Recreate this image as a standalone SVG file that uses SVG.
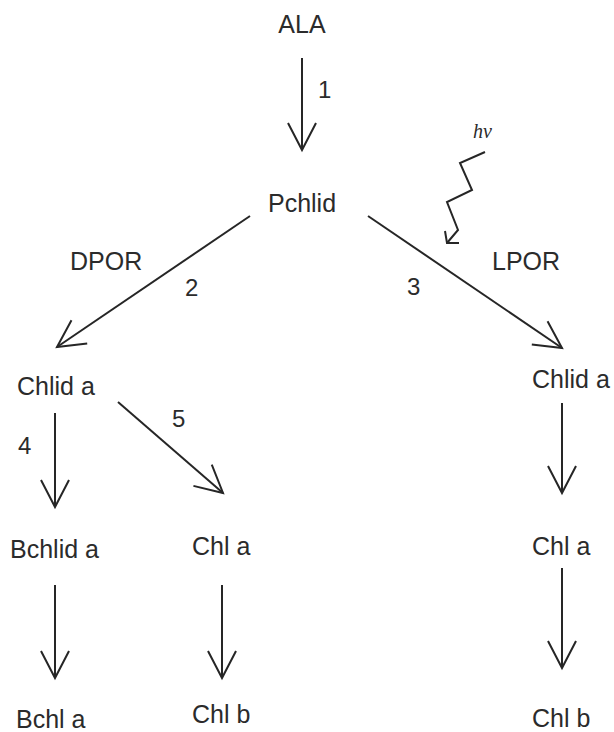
<svg xmlns="http://www.w3.org/2000/svg" width="614" height="732" viewBox="0 0 614 732">
  <defs>
    <style>
      .lbl { font-family: "Liberation Sans", Arial, sans-serif; font-size: 25px; fill: #2b2b2b; }
      .num { font-family: "Liberation Sans", Arial, sans-serif; font-size: 24px; fill: #2b2b2b; }
      .hv { font-family: "Liberation Serif", "Times New Roman", serif; font-size: 20px; font-style: italic; fill: #2b2b2b; }
      .edge { fill: none; stroke: #262626; stroke-width: 2; marker-end: url(#vhead); }
      .wave { fill: none; stroke: #262626; stroke-width: 2; stroke-linejoin: miter; }
    </style>
    <marker id="vhead" markerUnits="userSpaceOnUse" viewBox="-32 -18 36 36" markerWidth="36" markerHeight="36" refX="0" refY="0" orient="auto" overflow="visible">
      <path d="M-27,-14 L0,0 L-27,14" fill="none" stroke="#262626" stroke-width="2"/>
    </marker>
  </defs>
  <rect width="614" height="732" fill="#ffffff"/>

  <!-- connectors -->
  <g id="connectors">
    <line class="edge" x1="302" y1="58" x2="302" y2="150"/>
    <line class="edge" x1="250" y1="216" x2="57" y2="347"/>
    <line class="edge" x1="368" y1="216" x2="562" y2="348"/>
    <line class="edge" x1="55" y1="413" x2="55" y2="507"/>
    <line class="edge" x1="118" y1="402" x2="223" y2="493"/>
    <line class="edge" x1="55" y1="585" x2="55" y2="678"/>
    <line class="edge" x1="222" y1="585" x2="222" y2="678"/>
    <line class="edge" x1="562" y1="403" x2="562" y2="493"/>
    <line class="edge" x1="562" y1="568" x2="562" y2="668"/>
    <!-- light quantum -->
    <polyline class="wave" points="485,152 460,163 472,190 447,202 458,230 447,243"/>
    <path class="wave" d="M445,231 L447,243 L459,243"/>
    <text class="hv" x="473" y="138">hν</text>
    <!-- step numbers and enzymes -->
    <text class="num" x="318" y="98">1</text>
    <text class="num" x="185" y="296">2</text>
    <text class="num" x="407" y="295">3</text>
    <text class="num" x="18" y="454">4</text>
    <text class="num" x="172" y="427">5</text>
    <text class="lbl" x="70" y="270">DPOR</text>
    <text class="lbl" x="492" y="270">LPOR</text>
  </g>

  <!-- nodes -->
  <g id="ala"><text class="lbl" x="302" y="33" text-anchor="middle">ALA</text></g>
  <g id="pchlid"><text class="lbl" x="302" y="212" text-anchor="middle">Pchlid</text></g>
  <g id="chlid-a-dark"><text class="lbl" x="17" y="395">Chlid a</text></g>
  <g id="chlid-a-light"><text class="lbl" x="532" y="388">Chlid a</text></g>
  <g id="bchlid-a"><text class="lbl" x="10" y="558">Bchlid a</text></g>
  <g id="chl-a-dark"><text class="lbl" x="192" y="555">Chl a</text></g>
  <g id="chl-a-light"><text class="lbl" x="532" y="555">Chl a</text></g>
  <g id="bchl-a"><text class="lbl" x="16" y="728">Bchl a</text></g>
  <g id="chl-b-dark"><text class="lbl" x="192" y="723">Chl b</text></g>
  <g id="chl-b-light"><text class="lbl" x="532" y="727">Chl b</text></g>
</svg>
